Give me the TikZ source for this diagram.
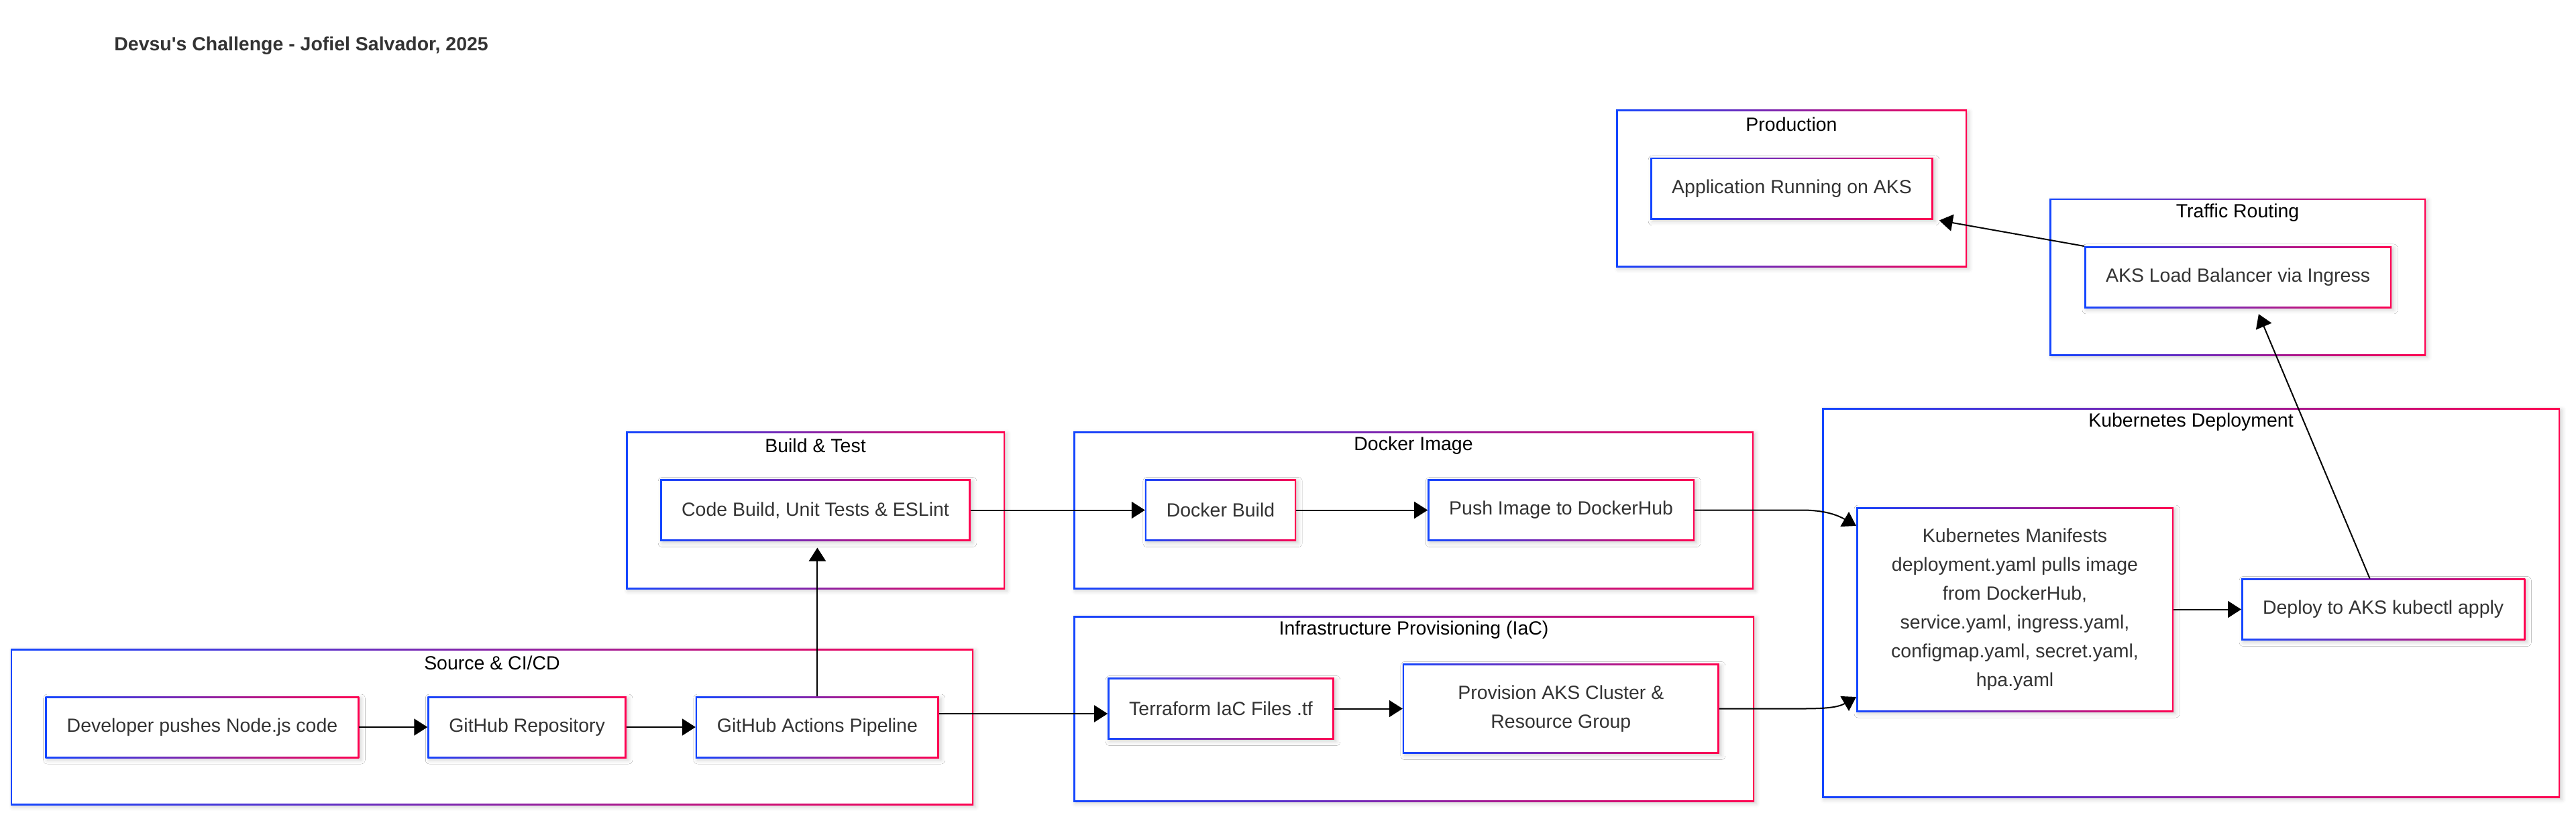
\documentclass[tikz,border=0pt]{standalone}
\usepackage{fontspec}
\setmainfont{Liberation Sans}
\usepackage{tikz}
\usetikzlibrary{arrows.meta,positioning,shadows.blur}
\definecolor{gblue}{RGB}{20,70,255}
\definecolor{gred}{RGB}{255,0,80}
\definecolor{txt}{HTML}{333333}

\begin{document}
\begin{tikzpicture}[
    font=\fontsize{8.1}{12.2}\selectfont,
    gradbox/.style={rectangle, fill=white, inner sep=0pt, outer sep=0pt,
        blur shadow={shadow xshift=0.03cm, shadow yshift=-0.03cm, shadow blur radius=0.06cm, shadow opacity=18},
        path picture={
            \shade[left color=gblue, right color=gred] (path picture bounding box.south west) rectangle (path picture bounding box.north east);
            \fill[white] ([shift={(0.025cm,0.025cm)}]path picture bounding box.south west) rectangle ([shift={(-0.025cm,-0.025cm)}]path picture bounding box.north east);
        }},
    cluster/.style={gradbox},
    stage/.style={gradbox, text=txt, align=center, inner xsep=0.32cm, minimum height=0.92cm},
    ctitle/.style={text=black},
    arrow/.style={-{Triangle[length=0.2cm,width=0.25cm]}, line width=0.02cm},
]
    \useasboundingbox (0,0) rectangle (38.4,12.2);

    % Title
    \node[text=txt, font=\fontsize{8.1}{12.2}\selectfont\bfseries, anchor=west] (title) at (1.58,11.52) {Devsu\textquotesingle s Challenge - Jofiel Salvador, 2025};

    % Clusters
    \node[cluster, minimum width=14.35cm, minimum height=2.33cm] (source) at (7.335,1.365) {};
    \node[cluster, minimum width=5.65cm, minimum height=2.35cm] (buildtest) at (12.155,4.595) {};
    \node[cluster, minimum width=10.14cm, minimum height=2.35cm] (docker) at (21.07,4.595) {};
    \node[cluster, minimum width=10.15cm, minimum height=2.77cm] (infra) at (21.075,1.635) {};
    \node[cluster, minimum width=11.00cm, minimum height=5.81cm] (k8s) at (32.66,3.215) {};
    \node[cluster, minimum width=5.23cm, minimum height=2.34cm] (prod) at (26.705,9.39) {};
    \node[cluster, minimum width=5.61cm, minimum height=2.34cm] (traffic) at (33.355,8.07) {};

    \node[ctitle] (sourcetitle) at ([yshift=-0.21cm]source.north) {Source \& CI/CD};
    \node[ctitle] (buildtitle) at ([yshift=-0.21cm]buildtest.north) {Build \& Test};
    \node[ctitle] (dockertitle) at ([yshift=-0.21cm]docker.north) {Docker Image};
    \node[ctitle] (infratitle) at ([yshift=-0.21cm]infra.north) {Infrastructure Provisioning (IaC)};
    \node[ctitle] (k8stitle) at ([yshift=-0.21cm]k8s.north) {Kubernetes Deployment};
    \node[ctitle] (prodtitle) at ([yshift=-0.21cm]prod.north) {Production};
    \node[ctitle] (traffictitle) at ([yshift=-0.21cm]traffic.north) {Traffic Routing};

    % Source & CI/CD
    \node[stage] (dev) at (3.015,1.36) {Developer pushes Node.js code};
    \node[stage, right=1.02cm of dev] (repo) {GitHub Repository};
    \node[stage, right=1.03cm of repo] (actions) {GitHub Actions Pipeline};

    % Build & Test
    \node[stage] (code) at (12.155,4.595) {Code Build, Unit Tests \& ESLint};

    % Docker Image
    \node[stage] (dbuild) at (18.195,4.595) {Docker Build};
    \node[stage, right=1.96cm of dbuild] (push) {Push Image to DockerHub};

    % Infrastructure
    \node[stage] (tf) at (18.20,1.635) {Terraform IaC Files .tf};
    \node[stage, minimum width=4.72cm, minimum height=1.34cm, right=1.02cm of tf] (aks) {Provision AKS Cluster \&\\Resource Group};

    % Kubernetes
    \node[stage, minimum width=4.73cm, minimum height=3.05cm] (manifests) at (30.035,3.115) {Kubernetes Manifests\\deployment.yaml pulls image\\from DockerHub,\\service.yaml, ingress.yaml,\\configmap.yaml, secret.yaml,\\hpa.yaml};
    \node[stage, right=1.01cm of manifests] (deploy) {Deploy to AKS kubectl apply};

    % Traffic & Production
    \node[stage] (lb) at (33.36,8.07) {AKS Load Balancer via Ingress};
    \node[stage] (app) at (26.71,9.39) {Application Running on AKS};

    % Arrows
    \draw[arrow] (dev) -- (repo);
    \draw[arrow] (repo) -- (actions);
    \draw[arrow, shorten >=0.1cm] (actions.north) -- (actions.north |- code.south);
    \draw[arrow] ([yshift=0.2cm]actions.east) -- ([yshift=0.2cm]actions.east -| tf.west);

    \draw[arrow] (code) -- (dbuild);
    \draw[arrow] (dbuild) -- (push);
    \draw[arrow] (tf) -- (aks);

    \draw[arrow] (push.east) -- ([xshift=1.6cm]push.east) to[out=0, in=150] ([yshift=-0.28cm]manifests.north west);
    \draw[arrow] (aks.east) -- ([xshift=1.25cm]aks.east) to[out=0, in=210] ([yshift=0.22cm]manifests.south west);

    \draw[arrow] (manifests) -- (deploy);
    \draw[arrow, shorten >=0.1cm] ([xshift=-0.2cm]deploy.north) -- ([xshift=0.27cm]lb.south);
    \draw[arrow, shorten >=0.09cm] (lb.north west) -- (app.south east);
\end{tikzpicture}
\end{document}
